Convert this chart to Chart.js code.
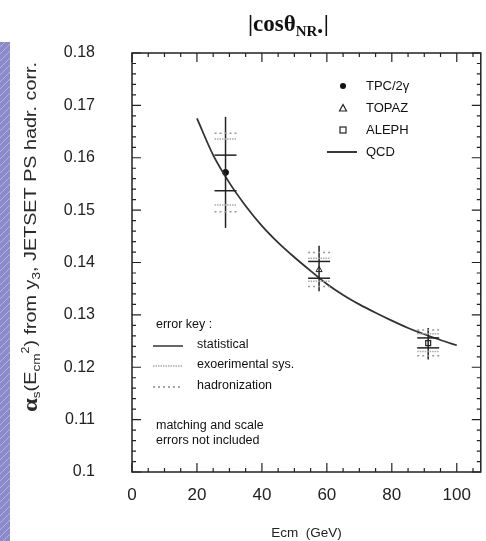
<!DOCTYPE html>
<html><head><meta charset="utf-8">
<script src="https://cdn.jsdelivr.net/npm/chart.js@4/dist/chart.umd.min.js"></script>
<style>html,body{margin:0;padding:0;background:#fff;}#wrap{width:486px;height:541px;position:relative;}</style>
</head><body><div id="wrap"><canvas id="c" width="486" height="541"></canvas></div>
<script>
// ---- data ----
const experiments = ["TPC/2γ", "TOPAZ", "ALEPH"];
const ecm = [28.8, 57.6, 91.2];
const alphaS = [0.1572, 0.1386, 0.1246];
const statLo = [0.1537, 0.1370, 0.1237];
const statHi = [0.1605, 0.1402, 0.1256];
const expLo = [0.1510, 0.1364, 0.1230];
const expHi = [0.1636, 0.1408, 0.1264];
const hadLo = [0.1497, 0.1354, 0.1222];
const hadHi = [0.1647, 0.1419, 0.1271];
const totLo = [0.1466, 0.1345, 0.1215];
const totHi = [0.1678, 0.1432, 0.1275];
const qcdE = [20, 25, 30, 35, 40, 45, 50, 55, 60, 65, 70, 75, 80, 85, 90, 95, 100];
const qcdAlpha = [0.1675, 0.1605, 0.1552, 0.1508, 0.1470, 0.1438, 0.1410, 0.1384, 0.1359, 0.1338, 0.1320, 0.1304, 0.1289, 0.1275, 0.1263, 0.1252, 0.1242];
const xTicks = [0, 20, 40, 60, 80, 100];
const yTicks = [0.1, 0.11, 0.12, 0.13, 0.14, 0.15, 0.16, 0.17, 0.18];

const SANS = "'Liberation Sans', Arial, sans-serif";

const deco = {
  id: 'deco',
  beforeDraw(chart) {
    const ctx = chart.ctx;
    ctx.save();
    ctx.fillStyle = '#8b8bcb';
    ctx.fillRect(0, 42, 10, 499);
    ctx.beginPath();
    ctx.rect(0, 42, 10, 499); ctx.clip();
    ctx.strokeStyle = 'rgba(255,255,255,0.35)';
    ctx.lineWidth = 1;
    for (let y = 30; y < 560; y += 7) { ctx.beginPath(); ctx.moveTo(0, y + 10); ctx.lineTo(10, y); ctx.stroke(); }
    ctx.restore();
  },
  afterDatasetsDraw(chart) {
    const ctx = chart.ctx, xs = chart.scales.x, ys = chart.scales.y;
    const a = chart.chartArea;
    ctx.save();
    ctx.strokeStyle = '#222'; ctx.lineWidth = 1.5;
    ctx.strokeRect(a.left, a.top, a.right - a.left, a.bottom - a.top);
    ctx.lineWidth = 1.2;
    for (let v = 0; v <= 105; v += 5) {
      const px = xs.getPixelForValue(v);
      const len = (v % 20 === 0) ? 9 : 4;
      ctx.beginPath(); ctx.moveTo(px, a.bottom); ctx.lineTo(px, a.bottom - len);
      ctx.moveTo(px, a.top); ctx.lineTo(px, a.top + len); ctx.stroke();
    }
    for (let i = 0; i <= 40; i++) {
      const v = 0.1 + i * 0.002;
      const py = ys.getPixelForValue(v);
      const len = (i % 5 === 0) ? 9 : 4;
      ctx.beginPath(); ctx.moveTo(a.left, py); ctx.lineTo(a.left + len, py);
      ctx.moveTo(a.right, py); ctx.lineTo(a.right - len, py); ctx.stroke();
    }
    for (let i = 0; i < ecm.length; i++) {
      const px = xs.getPixelForValue(ecm[i]);
      const hw = 11;
      ctx.setLineDash([]); ctx.strokeStyle = '#222'; ctx.lineWidth = 1.5;
      ctx.beginPath(); ctx.moveTo(px, ys.getPixelForValue(totHi[i])); ctx.lineTo(px, ys.getPixelForValue(totLo[i])); ctx.stroke();
      const caps = (vals, dash, col, lw) => {
        ctx.setLineDash(dash); ctx.strokeStyle = col; ctx.lineWidth = lw;
        vals.forEach(v => { const py = ys.getPixelForValue(v); ctx.beginPath(); ctx.moveTo(px - hw, py); ctx.lineTo(px + hw, py); ctx.stroke(); });
      };
      caps([hadLo[i], hadHi[i]], [2, 3], '#999', 1.5);
      caps([expLo[i], expHi[i]], [1.5, 1], '#aaa', 1.5);
      caps([statLo[i], statHi[i]], [], '#222', 1.5);
    }
    ctx.setLineDash([]);
    // title
    ctx.fillStyle = '#111';
    ctx.textBaseline = 'alphabetic'; ctx.textAlign = 'left';
    let tx = 248, ty = 31;
    ctx.font = "bold 23px 'Liberation Serif', serif";
    ctx.fillText('|cos\u03B8', tx, ty); tx += ctx.measureText('|cos\u03B8').width;
    ctx.font = "bold 15px 'Liberation Serif', serif";
    ctx.fillText('NR\u2022', tx, ty + 5); tx += ctx.measureText('NR\u2022').width;
    ctx.font = "bold 23px 'Liberation Serif', serif";
    ctx.fillText('|', tx + 1, ty);
    // legend
    ctx.font = '13px ' + SANS; ctx.textBaseline = 'middle';
    const lx = 343, tx2 = 366;
    const rows = [86, 108, 130, 152];
    ctx.beginPath(); ctx.arc(lx, rows[0], 3, 0, Math.PI * 2); ctx.fill();
    ctx.lineWidth = 1.2; ctx.strokeStyle = '#222';
    ctx.beginPath(); ctx.moveTo(lx, rows[1] - 3.5); ctx.lineTo(lx + 3.5, rows[1] + 3); ctx.lineTo(lx - 3.5, rows[1] + 3); ctx.closePath(); ctx.stroke();
    ctx.strokeRect(lx - 3, rows[2] - 3, 6, 6);
    ctx.lineWidth = 1.8; ctx.beginPath(); ctx.moveTo(327, rows[3]); ctx.lineTo(357, rows[3]); ctx.stroke();
    ctx.fillText('TPC/2\u03B3', tx2, rows[0]);
    ctx.fillText('TOPAZ', tx2, rows[1]);
    ctx.fillText('ALEPH', tx2, rows[2]);
    ctx.fillText('QCD', tx2, rows[3]);
    // error key
    ctx.font = '12.5px ' + SANS;
    ctx.fillText('error key :', 156, 325);
    ctx.fillText('statistical', 197, 345);
    ctx.fillText('exoerimental sys.', 197, 365);
    ctx.fillText('hadronization', 197, 386);
    ctx.strokeStyle = '#333'; ctx.lineWidth = 1.5;
    ctx.beginPath(); ctx.moveTo(153, 346); ctx.lineTo(183, 346); ctx.stroke();
    ctx.setLineDash([1.5, 1]); ctx.strokeStyle = '#aaa';
    ctx.beginPath(); ctx.moveTo(153, 366); ctx.lineTo(183, 366); ctx.stroke();
    ctx.setLineDash([2, 3]); ctx.strokeStyle = '#888';
    ctx.beginPath(); ctx.moveTo(153, 387); ctx.lineTo(183, 387); ctx.stroke();
    ctx.setLineDash([]);
    ctx.fillText('matching and scale', 156, 426);
    ctx.fillText('errors not included', 156, 441);
    // y-axis title (rotated), fitted to ~350px
    ctx.save();
    ctx.fillStyle = '#2a2a2a';
    ctx.translate(32, 237); ctx.rotate(-Math.PI / 2);
    ctx.textAlign = 'left'; ctx.textBaseline = 'middle';
    const parts = [
      ['\u03B1', "bold 20px 'Liberation Serif', serif", 0],
      ['s', '11px ' + SANS, 5],
      ['(E', '16px ' + SANS, 0],
      ['cm', '11px ' + SANS, 5],
      ['2', '10px ' + SANS, -6],
      [') from y', '16px ' + SANS, 0],
      ['3', '11px ' + SANS, 5],
      [', JETSET PS hadr. corr.', '16px ' + SANS, 0]
    ];
    let total = 0;
    parts.forEach(p => { ctx.font = p[1]; total += ctx.measureText(p[0]).width; });
    const sx = 350 / total;
    ctx.scale(sx, 1);
    let cx = -total / 2;
    parts.forEach(p => { ctx.font = p[1]; ctx.fillText(p[0], cx, p[2]); cx += ctx.measureText(p[0]).width; });
    ctx.restore();
    ctx.restore();
  }
};

new Chart(document.getElementById('c'), {
  type: 'scatter',
  data: {
    datasets: [
      { label: 'QCD', type: 'line', data: qcdE.map((e, i) => ({ x: e, y: qcdAlpha[i] })), borderColor: '#333', borderWidth: 1.8, pointRadius: 0, cubicInterpolationMode: 'monotone', fill: false },
      { label: experiments[0], data: [{ x: ecm[0], y: alphaS[0] }], pointStyle: 'circle', pointRadius: 3, backgroundColor: '#111', borderColor: '#111' },
      { label: experiments[1], data: [{ x: ecm[1], y: alphaS[1] }], pointStyle: 'triangle', pointRadius: 3.5, backgroundColor: '#fff', borderColor: '#222', borderWidth: 1 },
      { label: experiments[2], data: [{ x: ecm[2], y: alphaS[2] }], pointStyle: 'rect', pointRadius: 3.5, backgroundColor: '#fff', borderColor: '#222', borderWidth: 1.2 }
    ]
  },
  options: {
    responsive: false, animation: false,
    layout: { padding: { left: 0, right: 5, top: 53, bottom: 0 } },
    plugins: { legend: { display: false }, tooltip: { enabled: false } },
    scales: {
      x: {
        type: 'linear', min: 0, max: 107.4,
        grid: { display: false, drawTicks: false }, border: { display: false },
        afterBuildTicks: s => { s.ticks = xTicks.map(v => ({ value: v })); },
        afterFit: s => { s.height = 69; },
        ticks: { color: '#222', font: { family: SANS, size: 17 }, padding: 13, callback: v => String(v) },
        title: { display: true, text: 'Ecm  (GeV)', color: '#222', font: { family: SANS, size: 13.5 }, padding: { top: 8, bottom: 0 } }
      },
      y: {
        type: 'linear', min: 0.1, max: 0.18,
        grid: { display: false, drawTicks: false }, border: { display: false },
        afterBuildTicks: s => { s.ticks = yTicks.map(v => ({ value: v })); },
        afterFit: s => { s.width = 132; },
        ticks: { color: '#222', font: { family: SANS, size: 16 }, padding: 37, callback: v => String(+v.toFixed(2)) }
      }
    }
  },
  plugins: [deco]
});
</script></body></html>
